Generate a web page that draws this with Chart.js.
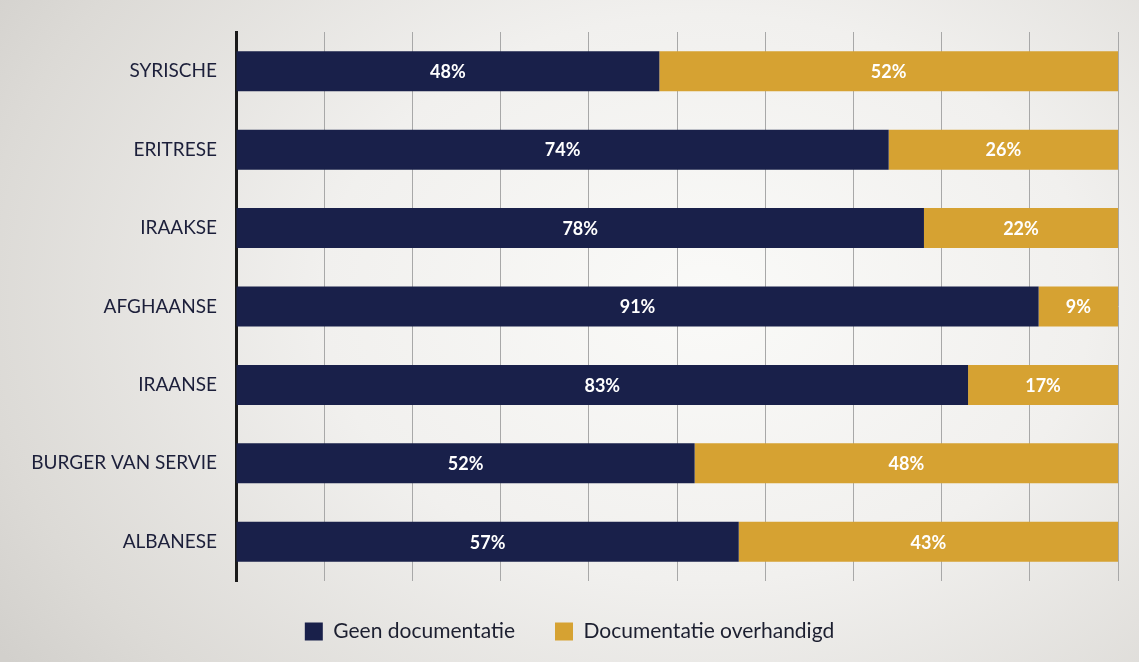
<!DOCTYPE html>
<html>
<head>
<meta charset="utf-8">
<script src="https://cdn.jsdelivr.net/npm/chart.js@4.4.0/dist/chart.umd.min.js"></script>
<style>
  html, body { margin: 0; padding: 0; }
  body {
    width: 1139px; height: 662px; overflow: hidden;
    background: radial-gradient(ellipse 75% 95% at 62% 45%, #fafaf8 0%, #f1f0ee 45%, #dcdad6 85%, #d2d0cc 100%);
  }
  #wrap { width: 1139px; height: 662px; }
</style>
</head>
<body>
<div id="wrap"><canvas id="docChart"></canvas></div>
<script>
const categories = ['SYRISCHE', 'ERITRESE', 'IRAAKSE', 'AFGHAANSE', 'IRAANSE', 'BURGER VAN SERVIE', 'ALBANESE'];
const geenDocumentatie = [48, 74, 78, 91, 83, 52, 57];
const documentatieOverhandigd = [52, 26, 22, 9, 17, 48, 43];
const seriesNames = ['Geen documentatie', 'Documentatie overhandigd'];

const NAVY = '#19204a';
const GOLD = '#d6a232';

// draws the percentage in the middle of each segment
const segmentLabels = {
    id: 'segmentLabels',
    afterDatasetsDraw(chart) {
        const ctx = chart.ctx;
        ctx.save();
        ctx.font = 'bold 18px Lato';
        ctx.fillStyle = '#ffffff';
        ctx.textAlign = 'center';
        ctx.textBaseline = 'middle';
        chart.data.datasets.forEach(function (ds, i) {
            chart.getDatasetMeta(i).data.forEach(function (bar, j) {
                const x = (bar.x + bar.base) / 2;
                ctx.fillText(ds.data[j] + '%', x, bar.y + 1);
            });
        });
        ctx.restore();
    }
};

document.addEventListener('DOMContentLoaded', function () {
    const ctx = document.getElementById('docChart').getContext('2d');
    new Chart(ctx, {
        type: 'bar',
        data: {
            labels: categories,
            datasets: [{
                label: seriesNames[0],
                data: geenDocumentatie,
                backgroundColor: NAVY,
                barPercentage: 0.51,
                categoryPercentage: 1
            }, {
                label: seriesNames[1],
                data: documentatieOverhandigd,
                backgroundColor: GOLD,
                barPercentage: 0.51,
                categoryPercentage: 1
            }]
        },
        options: {
            indexAxis: 'y',
            responsive: true,
            maintainAspectRatio: false,
            animation: false,
            layout: { padding: { top: 32, right: 21, left: 21, bottom: 10 } },
            plugins: {
                legend: {
                    position: 'bottom',
                    labels: {
                        boxWidth: 18,
                        boxHeight: 18,
                        color: '#1c1f30',
                        font: { family: 'Lato', size: 21 },
                        padding: 40
                    }
                },
                tooltip: { enabled: false }
            },
            scales: {
                x: {
                    stacked: true,
                    min: 0,
                    max: 100,
                    ticks: { display: false, stepSize: 10 },
                    grid: { color: '#a8a8a8', lineWidth: 1, drawTicks: false },
                    border: { display: false },
                    afterFit: function (s) { s.height = 0; }
                },
                y: {
                    stacked: true,
                    ticks: {
                        color: '#1c1f3a',
                        font: { family: 'Lato', size: 19 },
                        padding: 19
                    },
                    grid: { display: false, drawTicks: false },
                    border: { color: '#1a1a1a', width: 3 },
                    afterFit: function (s) { s.width = 215; }
                }
            }
        },
        plugins: [segmentLabels]
    });
});
</script>
</body>
</html>
